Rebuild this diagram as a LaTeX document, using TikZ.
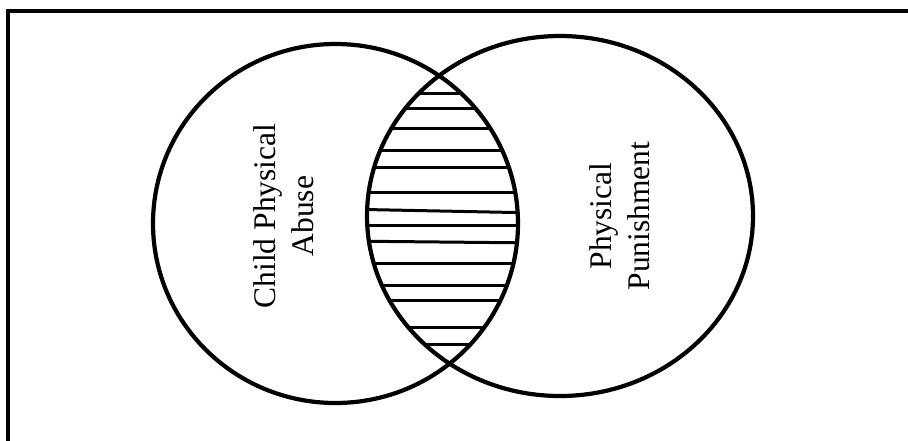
\documentclass[tikz,border=0pt]{standalone}
\usepackage{fontspec}
\setmainfont{Liberation Serif}
\usepackage{tikz}

\begin{document}
\begin{tikzpicture}[
        x=1pt, y=-1pt,
        outline/.style={line width=4.2pt, black},
        frameline/.style={line width=3.8pt, black},
        hatch/.style={line width=3pt, black},
        setlabel/.style={rotate=90, align=center, inner sep=0pt,
                         font=\fontsize{31.5}{38}\selectfont}
    ]
        \useasboundingbox (0,0) rectangle (908,440);

        % frame (only top and left sides fall inside the page)
        \draw[frameline] (8,445) -- (8,11) -- (915,11);

        % hatching of the overlap
        \begin{scope}
            \clip (335.5,223.5) ellipse [x radius=182.5pt, y radius=179.5pt];
            \clip (560,216) ellipse [x radius=193pt, y radius=180pt];
            \foreach \yl/\yr in {93/93, 108/108, 128/128, 150/150, 167/167, 192/192,
                                 209/213, 225/225, 241/243, 263/263, 285/285,
                                 300/300, 327/327, 344/344}
                \draw[hatch] (340,\yl) -- (540,\yr);
        \end{scope}

        % the two sets
        \draw[outline] (335.5,223.5) ellipse [x radius=182.5pt, y radius=179.5pt];
        \draw[outline] (560,216) ellipse [x radius=193pt, y radius=180pt];

        \node[setlabel] (abuse) at (284,216) {Child Physical\\Abuse};
        \node[setlabel] (punish) at (620,216) {Physical\\Punishment};
    \end{tikzpicture}
\end{document}
